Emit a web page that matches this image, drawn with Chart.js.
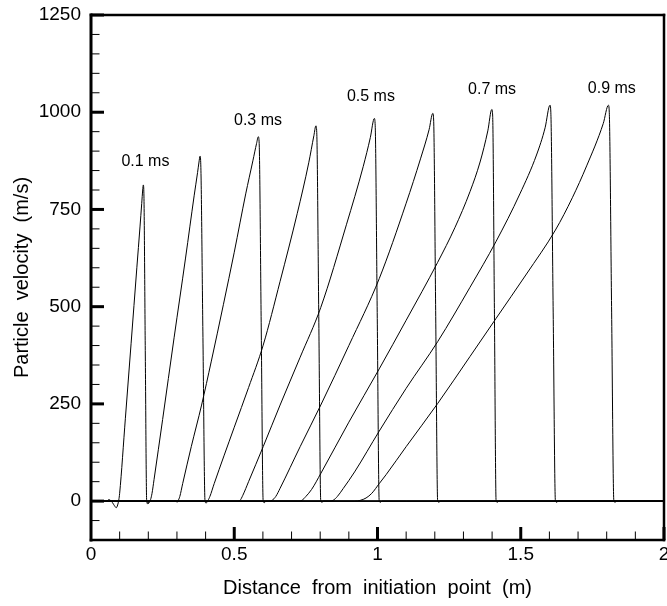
<!DOCTYPE html>
<html>
<head>
<meta charset="utf-8">
<script src="https://cdn.jsdelivr.net/npm/chart.js@4.4.1/dist/chart.umd.min.js"></script>
<style>
  html, body { margin: 0; padding: 0; background: #fff; }
  #wrap { position: relative; width: 667px; height: 606px; }
</style>
</head>
<body>
<div id="wrap"><canvas id="c"></canvas></div>
<script>
// ---- data (distance m, particle velocity m/s) ----
const seriesNames = ['0.1 ms','0.2 ms','0.3 ms','0.4 ms','0.5 ms','0.6 ms','0.7 ms','0.8 ms','0.9 ms'];

const x01 = [0, 0.055, 0.062, 0.068, 0.075, 0.082, 0.088, 0.093, 0.097, 0.1, 0.12, 0.14, 0.16, 0.171, 0.177, 0.1805, 0.1826, 0.1845, 0.1893, 0.1944, 0.198, 0.203, 2];
const v01 = [0, 0, 4, 2, -4, -12, -17, -10, 3, 20, 213, 406, 600, 705, 765, 800, 813, 795, 400, 0, -7, 0, 0];

const x02 = [0, 0.196, 0.2, 0.204, 0.208, 0.213, 0.22, 0.25, 0.29, 0.33, 0.36, 0.372, 0.377, 0.3805, 0.383, 0.3905, 0.398, 0.402, 0.408, 2];
const v02 = [0, 0, -6, -3, 4, 20, 55, 210, 420, 625, 785, 845, 872, 887, 870, 435, 0, -5, 0, 0];

const x03 = [0, 0.296, 0.3, 0.304, 0.31, 0.32, 0.35, 0.386, 0.42, 0.462, 0.5, 0.54, 0.565, 0.578, 0.584, 0.587, 0.594, 0.601, 0.605, 0.611, 2];
const v03 = [0, 0, -3, 1, 12, 45, 140, 247, 360, 505, 640, 790, 875, 920, 937, 920, 460, 0, -4, 0, 0];

const x04 = [0, 0.4, 0.408, 0.415, 0.43, 0.5, 0.55, 0.601, 0.66, 0.72, 0.76, 0.778, 0.785, 0.788, 0.795, 0.802, 0.806, 0.812, 2];
const v04 = [0, 0, 2, 12, 45, 190, 292, 401, 565, 740, 870, 940, 965, 948, 475, 0, -3, 0, 0];

const x05 = [0, 0.51, 0.52, 0.53, 0.55, 0.601, 0.66, 0.73, 0.802, 0.892, 0.95, 0.975, 0.989, 0.992, 0.999, 1.006, 1.01, 1.016, 2];
const v05 = [0, 0, 2, 15, 50, 140, 247, 370, 498, 712, 860, 935, 984, 965, 485, 0, -3, 0, 0];

const x06 = [0, 0.62, 0.632, 0.645, 0.66, 0.73, 0.802, 0.9, 1.006, 1.1, 1.15, 1.18, 1.193, 1.196, 1.203, 1.21, 1.214, 1.22, 2];
const v06 = [0, 0, 2, 12, 33, 140, 247, 400, 572, 766, 880, 955, 997, 980, 490, 0, -3, 0, 0];

const x07 = [0, 0.72, 0.736, 0.75, 0.77, 0.802, 0.9, 1.006, 1.1, 1.21, 1.27, 1.323, 1.358, 1.385, 1.399, 1.402, 1.408, 1.414, 1.418, 1.424, 2];
const v07 = [0, 0, 2, 12, 30, 71, 203, 340, 465, 614, 703, 796, 872, 952, 1007, 990, 495, 0, -3, 0, 0];

const x08 = [0, 0.83, 0.845, 0.86, 0.88, 0.92, 1.006, 1.1, 1.21, 1.323, 1.414, 1.497, 1.555, 1.585, 1.602, 1.605, 1.613, 1.621, 1.625, 1.631, 2];
const v08 = [0, 0, 2, 12, 32, 75, 180, 290, 410, 550, 668, 790, 890, 960, 1018, 1000, 500, 0, -3, 0, 0];

const x09 = [0, 0.92, 0.94, 0.96, 0.98, 1.006, 1.03, 1.1, 1.21, 1.323, 1.414, 1.52, 1.621, 1.68, 1.73, 1.788, 1.806, 1.809, 1.817, 1.825, 1.829, 1.835, 2];
const v09 = [0, 0, 2, 8, 20, 45, 68, 140, 251, 372, 470, 584, 697, 780, 862, 971, 1018, 1000, 500, 0, -3, 0, 0];

// annotation labels (anchored in data units)
const noteTexts = ['0.1 ms', '0.3 ms', '0.5 ms', '0.7 ms', '0.9 ms'];
const noteX = [0.190, 0.583, 0.977, 1.400, 1.818];
const noteY = [872, 979, 1039, 1058, 1062];

// ticks
const xTickValues = [0, 0.5, 1, 1.5, 2];
const xTickLabels = ['0', '0.5', '1', '1.5', '2'];
const yTickValues = [0, 250, 500, 750, 1000, 1250];
const yTickLabels = ['0', '250', '500', '750', '1000', '1250'];
const xMinorTicks = [0.1,0.2,0.3,0.4,0.6,0.7,0.8,0.9,1.1,1.2,1.3,1.4,1.6,1.7,1.8,1.9];
const yMinorTicks = [-50,50,100,150,200,300,350,400,450,550,600,650,700,800,850,900,950,1050,1100,1150,1200];
const xMajorMarks = [0.5, 1, 1.5, 2];
const yMajorMarks = [0, 250, 500, 750, 1000, 1250];

const xTitle = 'Distance  from  initiation  point  (m)';
const yTitle = 'Particle  velocity  (m/s)';

// ---- build ----
const xs = [x01,x02,x03,x04,x05,x06,x07,x08,x09];
const vs = [v01,v02,v03,v04,v05,v06,v07,v08,v09];
const FONT = '"Liberation Sans", Arial, Helvetica, sans-serif';

const datasets = xs.map((xa, i) => ({
  label: seriesNames[i],
  data: xa.map((x, j) => ({x: x, y: vs[i][j]})),
  borderColor: '#000',
  borderWidth: 1,
  pointRadius: 0,
  fill: false,
  cubicInterpolationMode: 'monotone'
}));

const frameTicks = {
  id: 'frameTicks',
  afterDatasetsDraw(chart) {
    const {ctx, chartArea: a, scales} = chart;
    const sx = scales.x, sy = scales.y;
    ctx.save();
    ctx.strokeStyle = '#000';
    const seg = (x1, y1, x2, y2, w, cap) => {
      ctx.lineWidth = w; ctx.lineCap = cap || 'butt';
      ctx.beginPath(); ctx.moveTo(x1, y1); ctx.lineTo(x2, y2); ctx.stroke();
    };
    // minor ticks
    xMinorTicks.forEach(v => { const p = sx.getPixelForValue(v); seg(p, a.bottom, p, a.bottom - 8.5, 1); });
    yMinorTicks.forEach(v => { const p = sy.getPixelForValue(v); seg(a.left, p, a.left + 8.5, p, 1); });
    // major ticks
    xMajorMarks.forEach(v => { const p = sx.getPixelForValue(v); seg(p, a.bottom, p, a.bottom - 13, 3); });
    yMajorMarks.forEach(v => { const p = sy.getPixelForValue(v); seg(a.left, p, a.left + 13, p, 3); });
    // frame
    seg(a.left, a.top, a.right, a.top, 2.5, 'square');
    seg(a.right, a.top, a.right, a.bottom, 2.5, 'square');
    seg(a.left, a.bottom, a.right, a.bottom, 2.5, 'square');
    seg(a.left, a.top, a.left, a.bottom, 3, 'square');
    // annotations
    ctx.fillStyle = '#000';
    ctx.font = '16px ' + FONT;
    ctx.textAlign = 'center';
    ctx.textBaseline = 'middle';
    noteTexts.forEach((t, i) => {
      ctx.fillText(t, sx.getPixelForValue(noteX[i]), sy.getPixelForValue(noteY[i]));
    });
    ctx.restore();
  }
};

new Chart(document.getElementById('c'), {
  type: 'line',
  data: { datasets },
  plugins: [frameTicks],
  options: {
    responsive: true,
    maintainAspectRatio: false,
    animation: false,
    layout: { padding: { left: 0, right: 3, top: 15, bottom: 0 } },
    plugins: { legend: { display: false }, tooltip: { enabled: false } },
    scales: {
      x: {
        type: 'linear',
        min: 0, max: 2,
        grid: { display: false, drawTicks: false },
        border: { display: false },
        afterBuildTicks: s => { s.ticks = xTickValues.map(v => ({value: v})); },
        afterFit: s => { s.height = 66; s.paddingLeft = 0; s.paddingRight = 0; },
        ticks: {
          color: '#000',
          font: { family: FONT, size: 19 },
          padding: 3,
          maxRotation: 0,
          autoSkip: false,
          callback: (v) => { const i = xTickValues.indexOf(v); return i >= 0 ? xTickLabels[i] : ''; }
        },
        title: {
          display: true, text: xTitle, color: '#000',
          font: { family: FONT, size: 20 },
          padding: { top: 0, bottom: 6 }
        }
      },
      y: {
        type: 'linear',
        min: -100, max: 1250,
        grid: { display: false, drawTicks: false },
        border: { display: false },
        afterBuildTicks: s => { s.ticks = yTickValues.map(v => ({value: v})); },
        afterFit: s => { s.width = 91; s.paddingTop = 0; s.paddingBottom = 0; },
        ticks: {
          color: '#000',
          font: { family: FONT, size: 19 },
          padding: 10,
          autoSkip: false,
          callback: (v) => { const i = yTickValues.indexOf(v); return i >= 0 ? yTickLabels[i] : ''; }
        },
        title: {
          display: true, text: yTitle, color: '#000',
          font: { family: FONT, size: 20 },
          padding: { top: 10, bottom: 0 }
        }
      }
    }
  }
});
</script>
</body>
</html>
